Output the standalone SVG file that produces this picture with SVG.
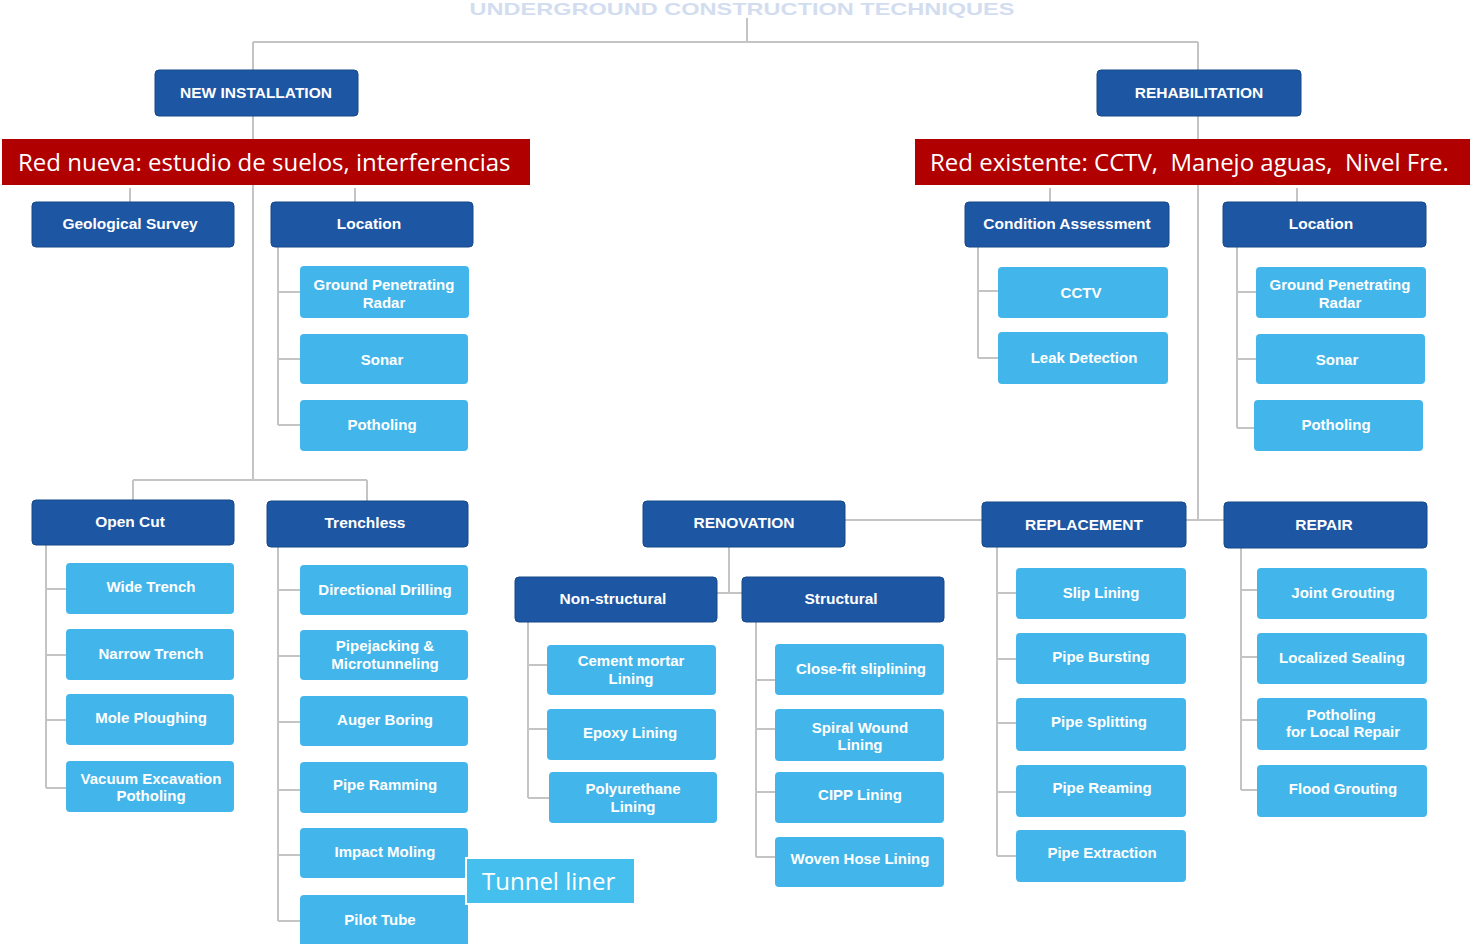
<svg xmlns="http://www.w3.org/2000/svg" width="1470" height="944" viewBox="0 0 1470 944">
<style>
.h rect{fill:#1d56a3;stroke:#164888;stroke-width:1}
.c rect{fill:#42b6ea}
.h text,.c text{fill:#fff;font-family:"Liberation Sans",Arial,sans-serif;font-weight:bold;text-anchor:middle}
.h text{font-size:15.5px}
.c text{font-size:15px}
.ln{fill:none;stroke:#c4c4c4;stroke-width:2}
.ban rect{fill:#b00000}
.ban text{fill:#fff;font-family:"Open Sans","Noto Sans",sans-serif;font-size:24px;white-space:pre}
</style>
<rect width="1470" height="944" fill="#fff"/>
<text x="742" y="15" font-family="Liberation Sans,Arial,sans-serif" font-weight="bold" font-size="17" fill="#d2ddf0" text-anchor="middle" textLength="545" lengthAdjust="spacingAndGlyphs">UNDERGROUND CONSTRUCTION TECHNIQUES</text>
<g id="connectors" class="ln">
<path d="M747 18V42M253 42H1198M253 42V70M1198 42V70"/>
<path d="M253 116V480M133 480H367M133 480V500M367 480V501"/>
<path d="M130 188V202M355 188V202"/>
<path d="M278 247V425M278 292H300M278 359H300M278 425H300"/>
<path d="M46 545V788M46 589H66M46 655H66M46 720H66M46 788H66"/>
<path d="M278 547V921M278 590H300M278 656H300M278 722H300M278 790H300M278 855H300M278 921H300"/>
<path d="M1198 116V520M845 520H982M1186 520H1224"/>
<path d="M1050 188V202M1297 188V202"/>
<path d="M729 547V593M717 593H742"/>
<path d="M528 622V798M528 665H547M528 729H547M528 798H549"/>
<path d="M756 622V857M756 680H775M756 729H775M756 792H775M756 857H775"/>
<path d="M997 547V856M997 593H1016M997 659H1016M997 723H1016M997 792H1016M997 856H1016"/>
<path d="M1241 548V790M1241 590H1257M1241 657H1257M1241 720H1257M1241 790H1257"/>
<path d="M978 247V358M978 291H998M978 358H998"/>
<path d="M1237 247V428M1237 292H1256M1237 359H1256M1237 428H1254"/>
</g>
<g id="new-installation" class="h"><rect x="155" y="70" width="203" height="46" rx="4"/><text x="256" y="98">NEW INSTALLATION</text></g>
<g id="rehabilitation" class="h"><rect x="1097" y="70" width="204" height="46" rx="4"/><text x="1199" y="98">REHABILITATION</text></g>
<g id="banner-left" class="ban"><rect x="2" y="139" width="528" height="46"/><text x="18" y="171">Red nueva: estudio de suelos, interferencias</text></g>
<g id="banner-right" class="ban"><rect x="915" y="139" width="555" height="46"/><text x="930" y="171" xml:space="preserve">Red existente: CCTV,  Manejo aguas,  Nivel Fre.</text></g>
<g id="geological-survey" class="h"><rect x="32" y="202" width="202" height="45" rx="4"/><text x="130" y="229">Geological Survey</text></g>
<g id="location-left" class="h"><rect x="271" y="202" width="202" height="45" rx="4"/><text x="369" y="229">Location</text></g>
<g id="gpr-left" class="c"><rect x="300" y="266" width="169" height="52" rx="4"/><text x="384" y="290">Ground Penetrating</text><text x="384" y="308">Radar</text></g>
<g id="sonar-left" class="c"><rect x="300" y="334" width="168" height="50" rx="4"/><text x="382" y="365">Sonar</text></g>
<g id="potholing-left" class="c"><rect x="300" y="400" width="168" height="51" rx="4"/><text x="382" y="430">Potholing</text></g>
<g id="open-cut" class="h"><rect x="32" y="500" width="202" height="45" rx="4"/><text x="130" y="527">Open Cut</text></g>
<g id="trenchless" class="h"><rect x="267" y="501" width="201" height="46" rx="4"/><text x="365" y="528">Trenchless</text></g>
<g id="wide-trench" class="c"><rect x="66" y="563" width="168" height="51" rx="4"/><text x="151" y="592">Wide Trench</text></g>
<g id="narrow-trench" class="c"><rect x="66" y="629" width="168" height="51" rx="4"/><text x="151" y="659">Narrow Trench</text></g>
<g id="mole-ploughing" class="c"><rect x="66" y="694" width="168" height="51" rx="4"/><text x="151" y="723">Mole Ploughing</text></g>
<g id="vacuum-excavation" class="c"><rect x="66" y="761" width="168" height="51" rx="4"/><text x="151" y="784">Vacuum Excavation</text><text x="151" y="801">Potholing</text></g>
<g id="directional-drilling" class="c"><rect x="300" y="565" width="168" height="50" rx="4"/><text x="385" y="595">Directional Drilling</text></g>
<g id="pipejacking" class="c"><rect x="300" y="630" width="168" height="50" rx="4"/><text x="385" y="651">Pipejacking &amp;</text><text x="385" y="669">Microtunneling</text></g>
<g id="auger-boring" class="c"><rect x="300" y="696" width="168" height="50" rx="4"/><text x="385" y="725">Auger Boring</text></g>
<g id="pipe-ramming" class="c"><rect x="300" y="762" width="168" height="51" rx="4"/><text x="385" y="790">Pipe Ramming</text></g>
<g id="impact-moling" class="c"><rect x="300" y="828" width="168" height="50" rx="4"/><text x="385" y="857">Impact Moling</text></g>
<g id="pilot-tube" class="c"><rect x="300" y="895" width="168" height="52" rx="4"/><text x="380" y="925">Pilot Tube</text></g>
<g id="tunnel-liner"><rect x="466" y="858" width="169" height="46" fill="#45bfee" stroke="#fff" stroke-width="2"/><text x="482" y="890" fill="#fff" font-family="Open Sans,Noto Sans,sans-serif" font-size="24">Tunnel liner</text></g>
<g id="renovation" class="h"><rect x="643" y="501" width="202" height="46" rx="4"/><text x="744" y="528">RENOVATION</text></g>
<g id="non-structural" class="h"><rect x="515" y="577" width="202" height="45" rx="4"/><text x="613" y="604">Non-structural</text></g>
<g id="structural" class="h"><rect x="742" y="577" width="202" height="45" rx="4"/><text x="841" y="604">Structural</text></g>
<g id="cement-mortar" class="c"><rect x="547" y="645" width="169" height="50" rx="4"/><text x="631" y="666">Cement mortar</text><text x="631" y="684">Lining</text></g>
<g id="epoxy" class="c"><rect x="547" y="709" width="169" height="51" rx="4"/><text x="630" y="738">Epoxy Lining</text></g>
<g id="polyurethane" class="c"><rect x="549" y="772" width="168" height="51" rx="4"/><text x="633" y="794">Polyurethane</text><text x="633" y="812">Lining</text></g>
<g id="close-fit" class="c"><rect x="775" y="644" width="169" height="51" rx="4"/><text x="861" y="674">Close-fit sliplining</text></g>
<g id="spiral-wound" class="c"><rect x="775" y="709" width="169" height="52" rx="4"/><text x="860" y="733">Spiral Wound</text><text x="860" y="750">Lining</text></g>
<g id="cipp" class="c"><rect x="775" y="772" width="169" height="51" rx="4"/><text x="860" y="800">CIPP Lining</text></g>
<g id="woven-hose" class="c"><rect x="775" y="837" width="169" height="50" rx="4"/><text x="860" y="864">Woven Hose Lining</text></g>
<g id="replacement" class="h"><rect x="982" y="502" width="204" height="45" rx="4"/><text x="1084" y="530">REPLACEMENT</text></g>
<g id="repair" class="h"><rect x="1224" y="502" width="203" height="46" rx="4"/><text x="1324" y="530">REPAIR</text></g>
<g id="slip-lining" class="c"><rect x="1016" y="568" width="170" height="51" rx="4"/><text x="1101" y="598">Slip Lining</text></g>
<g id="pipe-bursting" class="c"><rect x="1016" y="633" width="170" height="51" rx="4"/><text x="1101" y="662">Pipe Bursting</text></g>
<g id="pipe-splitting" class="c"><rect x="1016" y="698" width="170" height="53" rx="4"/><text x="1099" y="727">Pipe Splitting</text></g>
<g id="pipe-reaming" class="c"><rect x="1016" y="765" width="170" height="52" rx="4"/><text x="1102" y="793">Pipe Reaming</text></g>
<g id="pipe-extraction" class="c"><rect x="1016" y="830" width="170" height="52" rx="4"/><text x="1102" y="858">Pipe Extraction</text></g>
<g id="joint-grouting" class="c"><rect x="1257" y="568" width="170" height="51" rx="4"/><text x="1343" y="598">Joint Grouting</text></g>
<g id="localized-sealing" class="c"><rect x="1257" y="633" width="170" height="51" rx="4"/><text x="1342" y="663">Localized Sealing</text></g>
<g id="potholing-local" class="c"><rect x="1257" y="698" width="170" height="52" rx="4"/><text x="1341" y="720">Potholing</text><text x="1343" y="737">for Local Repair</text></g>
<g id="flood-grouting" class="c"><rect x="1257" y="765" width="170" height="52" rx="4"/><text x="1343" y="794">Flood Grouting</text></g>
<g id="condition-assessment" class="h"><rect x="965" y="202" width="204" height="45" rx="4"/><text x="1067" y="229">Condition Assessment</text></g>
<g id="location-right" class="h"><rect x="1223" y="202" width="203" height="45" rx="4"/><text x="1321" y="229">Location</text></g>
<g id="cctv" class="c"><rect x="998" y="267" width="170" height="51" rx="4"/><text x="1081" y="298">CCTV</text></g>
<g id="leak-detection" class="c"><rect x="998" y="332" width="170" height="52" rx="4"/><text x="1084" y="363">Leak Detection</text></g>
<g id="gpr-right" class="c"><rect x="1256" y="267" width="170" height="51" rx="4"/><text x="1340" y="290">Ground Penetrating</text><text x="1340" y="308">Radar</text></g>
<g id="sonar-right" class="c"><rect x="1256" y="334" width="169" height="50" rx="4"/><text x="1337" y="365">Sonar</text></g>
<g id="potholing-right" class="c"><rect x="1254" y="400" width="169" height="51" rx="4"/><text x="1336" y="430">Potholing</text></g>
</svg>
